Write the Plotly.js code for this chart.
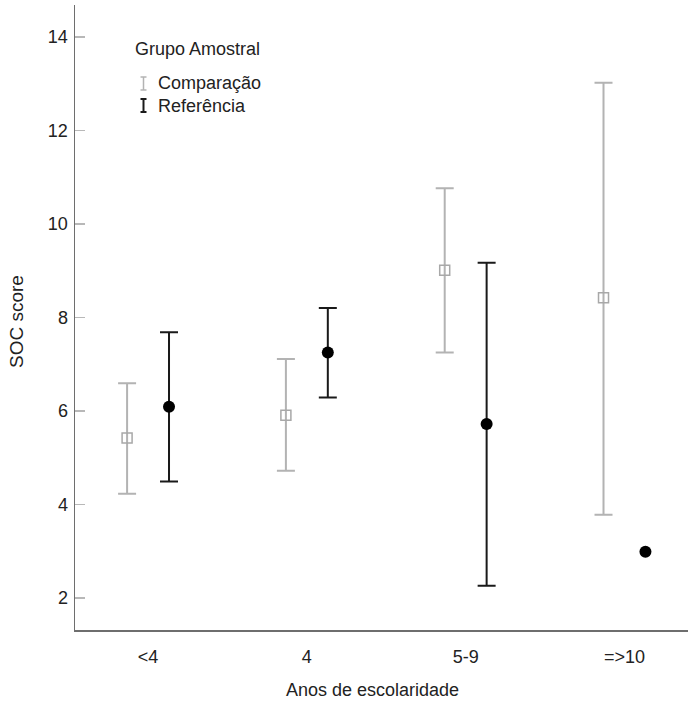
<!DOCTYPE html>
<html>
<head>
<meta charset="utf-8">
<script src="https://cdn.plot.ly/plotly-3.0.1.min.js"></script>
<style>html,body{margin:0;padding:0;background:#fff;}#chart{width:688px;height:705px;}</style>
</head>
<body>
<div id="chart"></div>
<script>
var categories = ['<4', '4', '5-9', '=>10'];
var compMean = [5.42, 5.91, 9.01, 8.42];
var compLow  = [4.23, 4.72, 7.25, 3.78];
var compHigh = [6.59, 7.11, 10.76, 13.02];
var refMean  = [6.09, 7.25, 5.72, 2.99];
var refLow   = [4.49, 6.29, 2.26, null];
var refHigh  = [7.68, 8.20, 9.17, null];
var yTicks = [2, 4, 6, 8, 10, 12, 14];

function plus(m, h){ return m.map(function(v,i){ return h[i]==null ? NaN : h[i]-v; }); }
function minus(m, l){ return m.map(function(v,i){ return l[i]==null ? NaN : v-l[i]; }); }

var FONT = 'Liberation Sans, Arial, sans-serif';
var grey = '#b3b3b3';
var black = '#1a1a1a';
var FS = 18;

var traces = [
  {
    type: 'scatter', mode: 'markers', name: 'Comparação',
    x: categories, y: compMean,
    marker: {symbol: 'square-open', size: 10, color: '#a8a8a8', line: {width: 1.5, color: '#a8a8a8'}},
    error_y: {type: 'data', symmetric: false, array: plus(compMean, compHigh), arrayminus: minus(compMean, compLow),
              color: grey, thickness: 2, width: 9},
    showlegend: false
  },
  {
    type: 'scatter', mode: 'markers', name: 'Referência',
    x: categories, y: refMean,
    marker: {symbol: 'circle', size: 12, color: '#000'},
    error_y: {type: 'data', symmetric: false, array: plus(refMean, refHigh), arrayminus: minus(refMean, refLow),
              color: black, thickness: 2, width: 9},
    showlegend: false
  }
];

var L = 75, T = 5, W = 613, H = 625;
function px(x){ return (x - L) / W; }
function py(y){ return (T + H - y) / H; }

var layout = {
  width: 688, height: 705,
  margin: {l: L, r: 0, t: T, b: 75},
  paper_bgcolor: '#fff', plot_bgcolor: '#fff',
  font: {family: FONT, size: FS, color: '#222'},
  showlegend: false,
  scattermode: 'group',
  scattergap: 0.472,
  xaxis: {
    type: 'category',
    range: [-0.46, 3.40],
    showgrid: false, zeroline: false,
    showline: true, linecolor: '#6e6e6e', linewidth: 1.5,
    ticks: '', ticklabelstandoff: 10,
    tickfont: {family: FONT, size: FS, color: '#222'}
  },
  yaxis: {
    range: [1.316, 14.68],
    tickvals: yTicks, ticktext: yTicks.map(String),
    showgrid: false, zeroline: false,
    showline: true, linecolor: '#6e6e6e', linewidth: 1.5,
    ticks: 'inside', ticklen: 10, tickwidth: 1.5, tickcolor: '#b8b8b8',
    ticklabelstandoff: 2,
    tickfont: {family: FONT, size: FS, color: '#222'}
  },
  annotations: [
    {xref: 'paper', yref: 'paper', x: px(372), y: py(690), xanchor: 'center', yanchor: 'middle',
     text: 'Anos de escolaridade', showarrow: false, font: {family: FONT, size: FS, color: '#222'}},
    {xref: 'paper', yref: 'paper', x: px(16), y: py(322), xanchor: 'center', yanchor: 'middle', textangle: -90,
     text: 'SOC score', showarrow: false, font: {family: FONT, size: 19, color: '#222'}},
    {xref: 'paper', yref: 'paper', x: px(133), y: py(49), xanchor: 'left', yanchor: 'middle',
     text: 'Grupo Amostral', showarrow: false, font: {family: FONT, size: FS, color: '#222'}},
    {xref: 'paper', yref: 'paper', x: px(156), y: py(83), xanchor: 'left', yanchor: 'middle',
     text: 'Comparação', showarrow: false, font: {family: FONT, size: FS, color: '#222'}},
    {xref: 'paper', yref: 'paper', x: px(156), y: py(106), xanchor: 'left', yanchor: 'middle',
     text: 'Referência', showarrow: false, font: {family: FONT, size: FS, color: '#222'}}
  ],
  shapes: [
    {type: 'line', xref: 'paper', yref: 'paper', x0: px(143.5), x1: px(143.5), y0: py(77), y1: py(90), line: {color: grey, width: 1.5}},
    {type: 'line', xref: 'paper', yref: 'paper', x0: px(140.5), x1: px(146.5), y0: py(77), y1: py(77), line: {color: grey, width: 1.5}},
    {type: 'line', xref: 'paper', yref: 'paper', x0: px(140.5), x1: px(146.5), y0: py(90), y1: py(90), line: {color: grey, width: 1.5}},
    {type: 'line', xref: 'paper', yref: 'paper', x0: px(143.5), x1: px(143.5), y0: py(99), y1: py(112), line: {color: black, width: 2}},
    {type: 'line', xref: 'paper', yref: 'paper', x0: px(140.5), x1: px(146.5), y0: py(99), y1: py(99), line: {color: black, width: 2}},
    {type: 'line', xref: 'paper', yref: 'paper', x0: px(140.5), x1: px(146.5), y0: py(112), y1: py(112), line: {color: black, width: 2}}
  ]
};

Plotly.newPlot('chart', traces, layout, {displayModeBar: false, staticPlot: true});
</script>
</body>
</html>
